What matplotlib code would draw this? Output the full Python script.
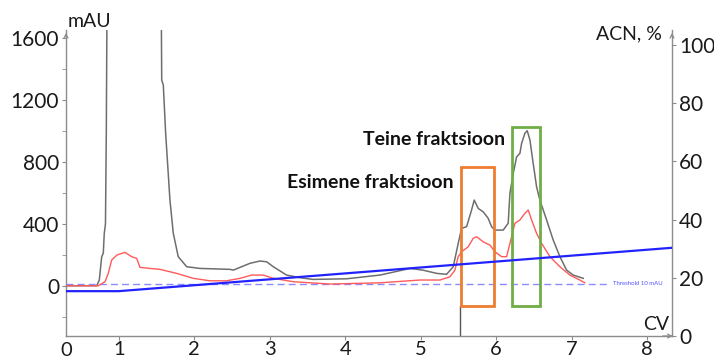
import matplotlib
matplotlib.use("Agg")
import matplotlib.pyplot as plt
from matplotlib.patches import Rectangle

plt.rcParams['font.family'] = ['Lato', 'DejaVu Sans']

# ---- data ----
uv_cv = [0.302, 0.709, 0.743, 0.775, 0.796, 0.809, 0.825, 0.836, 0.845, 0.9, 1.5,
         1.564, 1.570, 1.591, 1.622, 1.679, 1.723, 1.789, 1.901, 2.077, 2.474, 2.518,
         2.739, 2.871, 2.960, 3.048, 3.225, 3.401, 3.574, 4.020, 4.461, 4.858, 5.030,
         5.212, 5.344, 5.432, 5.498, 5.543, 5.609, 5.675, 5.710, 5.763, 5.829, 5.895,
         5.940, 5.984, 6.094, 6.160, 6.183, 6.227, 6.272, 6.315, 6.338, 6.381, 6.412,
         6.448, 6.491, 6.536, 6.580, 6.669, 6.756, 6.845, 6.934, 7.021, 7.154]
uv_mau = [0, 0, 37, 187, 211, 340, 400, 1000, 1800, 2500, 2500,
          1800, 1330, 1298, 987, 554, 340, 188, 123, 112, 106, 101,
          145, 160, 155, 123, 69, 52, 41, 45, 69, 112, 101,
          80, 74, 123, 274, 371, 382, 490, 554, 500, 478, 436,
          382, 360, 360, 404, 598, 727, 834, 856, 921, 986, 1003,
          942, 792, 640, 554, 425, 296, 188, 101, 69, 48]

uv2_cv = [0.302, 0.730, 0.819, 0.862, 0.907, 0.974, 1.083, 1.172, 1.238, 1.282, 1.415,
          1.547, 1.768, 1.988, 2.209, 2.430, 2.607, 2.762, 2.915, 3.048, 3.313, 3.799,
          4.461, 4.991, 5.256, 5.388, 5.454, 5.498, 5.543, 5.630, 5.697, 5.742, 5.829,
          5.918, 5.984, 6.073, 6.139, 6.183, 6.249, 6.315, 6.381, 6.425, 6.470, 6.536,
          6.603, 6.713, 6.845, 6.977, 7.109, 7.175]
uv2_mau = [0, 0, 26, 80, 166, 198, 216, 188, 177, 119, 112,
           106, 80, 48, 32, 32, 48, 69, 69, 48, 26, 11,
           19, 37, 37, 58, 101, 188, 220, 252, 307, 317, 284,
           263, 220, 188, 188, 274, 404, 425, 468, 490, 425, 339,
           274, 188, 123, 69, 37, 19]

acn_cv = [0.302, 1.0, 8.33]
acn_pct = [15.4, 15.4, 30.3]

threshold_mau = 10
threshold_end_cv = 7.50
marker_cv = 5.52

frac1_cv = (5.53, 5.97)
frac2_cv = (6.21, 6.58)
frac1_mau = (-129, 768)
frac2_mau = (-129, 1028)

xticks = [1, 2, 3, 4, 5, 6, 7, 8]
yticks_left = [0, 400, 800, 1200, 1600]
yticks_left_minor = [-200, 200, 600, 1000, 1400]
yticks_right = [0, 20, 40, 60, 80, 100]

# ---- figure ----
fig = plt.figure(figsize=(7.14, 3.6), dpi=100)
ax = fig.add_axes([66/714, 24/360, (672-66)/714, (336-30)/360])
ax.set_xlim(0.302, 8.33)
ax.set_ylim(-325, 1654)

spine_col = '#8c8c8c'
tick_fs = 15

ax.plot(uv_cv, uv_mau, color='#6e6e6e', lw=1.1, zorder=3)
ax.plot(uv2_cv, uv2_mau, color='#ff5a5a', lw=1.0, zorder=3)
ax.plot([0.302, threshold_end_cv], [threshold_mau, threshold_mau], color='#8a8aff',
        lw=1.0, dashes=(5, 3), zorder=2)
ax.text(7.55, threshold_mau + 6, 'Threshold 10 mAU', color='#5050ff', fontsize=4.3,
        va='center', ha='left')
ax.plot([marker_cv, marker_cv], [-325, frac1_mau[0]], color='#555555', lw=1.0, zorder=2)

ax.add_patch(Rectangle((frac1_cv[0], frac1_mau[0]), frac1_cv[1]-frac1_cv[0],
                       frac1_mau[1]-frac1_mau[0], fill=False, ec='#ed7d31', lw=2, zorder=5))
ax.add_patch(Rectangle((frac2_cv[0], frac2_mau[0]), frac2_cv[1]-frac2_cv[0],
                       frac2_mau[1]-frac2_mau[0], fill=False, ec='#70ad47', lw=2, zorder=5))

ax.text(4.243, 910, 'Teine fraktsioon', fontsize=14, fontweight='bold',
        va='baseline', ha='left', color='#111111')
ax.text(3.225, 634, 'Esimene fraktsioon', fontsize=14, fontweight='bold',
        va='baseline', ha='left', color='#111111')

ax.set_xticks(xticks)
ax.set_yticks(yticks_left)
ax.set_yticks(yticks_left_minor, minor=True)
for s in ['top', 'right']:
    ax.spines[s].set_visible(False)
for s in ['left', 'bottom']:
    ax.spines[s].set_color(spine_col)
    ax.spines[s].set_linewidth(1.0)
ax.tick_params(axis='both', which='both', direction='out', length=3, color=spine_col,
               labelsize=tick_fs, labelcolor='#1a1a1a', pad=2)
ax.tick_params(axis='x', pad=0.5, labelsize=14.5)

ax2 = ax.twinx()
ax2.set_ylim(0, 105.1)
ax2.plot(acn_cv, acn_pct, color='#2222ff', lw=1.6, zorder=4)
ax2.set_yticks(yticks_right)
for s in ['top', 'left', 'bottom']:
    ax2.spines[s].set_visible(False)
ax2.spines['right'].set_color(spine_col)
ax2.spines['right'].set_linewidth(1.0)
ax2.tick_params(axis='y', direction='out', length=3, color=spine_col,
                labelsize=tick_fs, labelcolor='#1a1a1a', pad=2)

# axis arrows
arrow = dict(arrowstyle='->', color=spine_col, lw=0.9, mutation_scale=7)
ax.annotate('', xy=(0, 1.0), xytext=(0, 0.97), xycoords='axes fraction', arrowprops=arrow)
ax.annotate('', xy=(1, 1.0), xytext=(1, 0.97), xycoords='axes fraction', arrowprops=arrow)
ax.annotate('', xy=(1.006, 0), xytext=(0.98, 0), xycoords='axes fraction', arrowprops=arrow)

# axis titles
fig.text(68/714, 1-27/360, 'mAU', fontsize=14, color='#1a1a1a', ha='left', va='baseline')
fig.text(662/714, 1-39/360, 'ACN, %', fontsize=14, color='#1a1a1a', ha='right', va='baseline')
fig.text(669/714, 1-330/360, 'CV', fontsize=14, color='#1a1a1a', ha='right', va='baseline')
fig.text(66/714, 1-350/360, '0', fontsize=14.5, color='#1a1a1a', ha='center', va='center')

fig.savefig('out.png', dpi=100)
